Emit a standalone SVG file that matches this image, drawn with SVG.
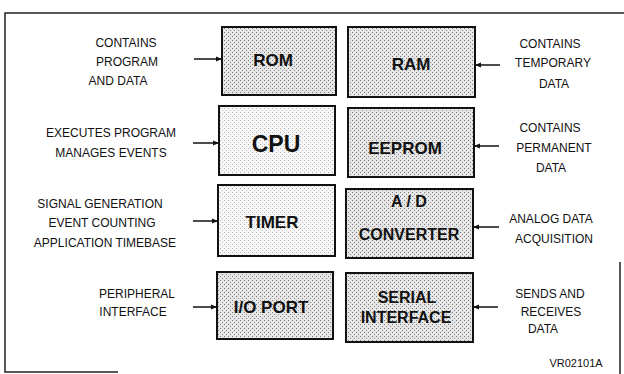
<svg xmlns="http://www.w3.org/2000/svg" width="624" height="374" viewBox="0 0 624 374">
<defs>
<pattern id="dark" width="4" height="4" patternUnits="userSpaceOnUse">
<rect width="4" height="4" fill="#e6e6e6"/>
<rect x="0" y="0" width="1" height="1" fill="#7a7a7a"/>
<rect x="2" y="2" width="1" height="1" fill="#8a8a8a"/>
</pattern>
<pattern id="light" width="4" height="4" patternUnits="userSpaceOnUse">
<rect width="4" height="4" fill="#f7f7f7"/>
<rect x="0" y="0" width="1" height="1" fill="#b0b0b0"/>
<rect x="2" y="2" width="1" height="1" fill="#c4c4c4"/>
</pattern>
<marker id="ah" viewBox="0 0 6 6" refX="6" refY="3" markerWidth="6" markerHeight="6" markerUnits="userSpaceOnUse" orient="auto">
<path d="M0,0.5 L6,3 L0,5.5 z" fill="#111"/>
</marker>
</defs>
<style>
.box{stroke:#111;stroke-width:2}
.d{fill:url(#dark)}
.l{fill:url(#light)}
.bl{font-family:"Liberation Sans",Arial,sans-serif;font-weight:bold;font-size:17px;fill:#111;text-anchor:middle}
.tx{font-family:"Liberation Sans",Arial,sans-serif;font-size:12px;fill:#111;text-anchor:middle}
.con line{stroke:#111;stroke-width:1.5;marker-end:url(#ah)}
.frame{fill:none;stroke:#222;stroke-width:1.5}
</style>
<path class="frame" d="M624,13 L5,13 L5,372 L118,372 M620,262 L620,374"/>
<g id="rom"><rect class="box d" x="222" y="27" width="114" height="68"/><text class="bl" x="273" y="66">ROM</text></g>
<g id="ram"><rect class="box d" x="348" y="27" width="127" height="70"/><text class="bl" x="411" y="70">RAM</text></g>
<g id="cpu"><rect class="box l" x="219" y="106" width="116" height="69"/><text class="bl" x="276" y="152" style="font-size:23px">CPU</text></g>
<g id="eeprom"><rect class="box d" x="348" y="108" width="126" height="69"/><text class="bl" x="405" y="154">EEPROM</text></g>
<g id="timer"><rect class="box l" x="218" y="185" width="117" height="71"/><text class="bl" x="272" y="228">TIMER</text></g>
<g id="adc"><rect class="box d" x="346" y="189" width="127" height="69"/><text class="bl" x="409" y="207" style="font-size:16px">A / D</text><text class="bl" x="409" y="240" style="font-size:16px">CONVERTER</text></g>
<g id="io"><rect class="box d" x="217" y="272" width="116" height="67"/><text class="bl" x="271" y="313">I/O PORT</text></g>
<g id="serial"><rect class="box d" x="346" y="273" width="127" height="69"/><text class="bl" x="407" y="303" style="font-size:16px">SERIAL</text><text class="bl" x="406" y="323" style="font-size:16px">INTERFACE</text></g>
<g class="con" id="connectors">
<line x1="194" y1="59" x2="222" y2="59"/>
<line x1="500" y1="65" x2="475" y2="65"/>
<line x1="193" y1="143" x2="219" y2="143"/>
<line x1="499" y1="146" x2="474" y2="146"/>
<line x1="193" y1="221" x2="218" y2="221"/>
<line x1="499" y1="227" x2="473" y2="227"/>
<line x1="193" y1="307" x2="217" y2="307"/>
<line x1="498" y1="307" x2="473" y2="307"/>
</g>
<g id="labels-left">
<text class="tx" x="126" y="47">CONTAINS</text>
<text class="tx" x="127" y="66">PROGRAM</text>
<text class="tx" x="118" y="85">AND DATA</text>
<text class="tx" x="111" y="137">EXECUTES PROGRAM</text>
<text class="tx" x="111" y="157">MANAGES EVENTS</text>
<text class="tx" x="100" y="208">SIGNAL GENERATION</text>
<text class="tx" x="102" y="227">EVENT COUNTING</text>
<text class="tx" x="105" y="247">APPLICATION TIMEBASE</text>
<text class="tx" x="137" y="298">PERIPHERAL</text>
<text class="tx" x="133" y="316">INTERFACE</text>
</g>
<g id="labels-right">
<text class="tx" x="550" y="48">CONTAINS</text>
<text class="tx" x="553" y="67">TEMPORARY</text>
<text class="tx" x="554" y="88">DATA</text>
<text class="tx" x="550" y="132">CONTAINS</text>
<text class="tx" x="554" y="152">PERMANENT</text>
<text class="tx" x="551" y="172">DATA</text>
<text class="tx" x="551" y="223">ANALOG DATA</text>
<text class="tx" x="554" y="243">ACQUISITION</text>
<text class="tx" x="550" y="298">SENDS AND</text>
<text class="tx" x="551" y="316">RECEIVES</text>
<text class="tx" x="543" y="333">DATA</text>
<text class="tx" x="576" y="367" style="font-size:11px">VR02101A</text>
</g>
</svg>
